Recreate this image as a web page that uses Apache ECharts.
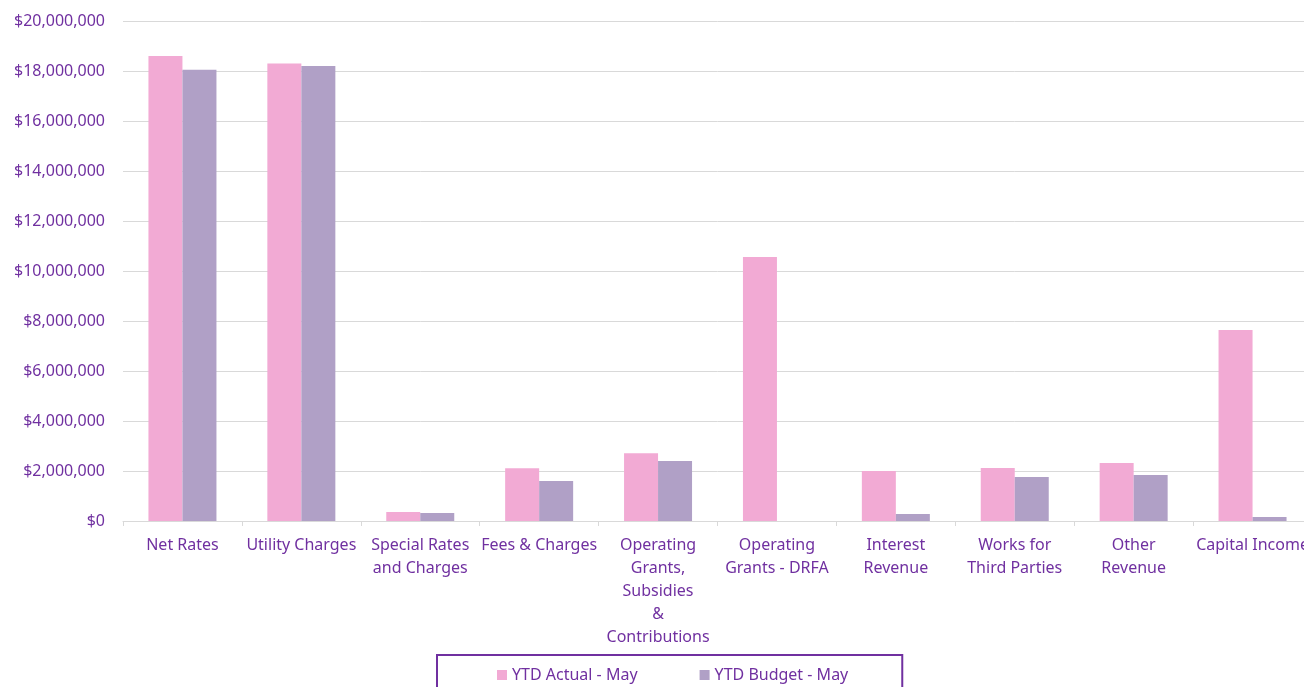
<!DOCTYPE html>
<html>
<head>
<meta charset="utf-8">
<script src="https://cdn.jsdelivr.net/npm/echarts@6/dist/echarts.min.js"></script>
<style>
  html, body { margin: 0; padding: 0; background: #ffffff; overflow: hidden; }
  /* the canvas is a little wider than the window, so the last category runs off the right edge */
  #chart { width: 1312px; height: 687px; }
</style>
</head>
<body>
<div id="chart"></div>
<script>
// Revenue categories (line breaks as shown under the axis)
const categories = [
  'Net Rates',
  'Utility Charges',
  'Special Rates\nand Charges',
  'Fees & Charges',
  'Operating\nGrants,\nSubsidies\n&\nContributions',
  'Operating\nGrants - DRFA',
  'Interest\nRevenue',
  'Works for\nThird Parties',
  'Other\nRevenue',
  'Capital Income'
];

// Year-to-date values in dollars
const ytdActual = [18600000, 18300000, 360000, 2110000, 2710000, 10560000, 2000000, 2120000, 2320000, 7640000];
const ytdBudget = [18050000, 18200000, 320000, 1600000, 2400000, 0, 280000, 1760000, 1840000, 160000];

const seriesNames = ['YTD Actual - May', 'YTD Budget - May'];

const textColor = '#7030A0';
const fontFamily = '"Noto Sans", "Liberation Sans", sans-serif';

function money(v) {
  return '$' + v.toLocaleString('en-US');
}

const chart = echarts.init(document.getElementById('chart'), null, { renderer: 'canvas' });

chart.setOption({
  animation: false,
  backgroundColor: '#ffffff',
  textStyle: { fontFamily: fontFamily },
  grid: { left: 123, right: 0, top: 21, height: 500, containLabel: false },
  legend: {
    data: seriesNames,
    top: 655,
    left: 437,
    padding: [12, 54, 12, 60],
    itemGap: 62,
    itemWidth: 10,
    itemHeight: 10,
    icon: 'rect',
    borderColor: '#7030A0',
    borderWidth: 2,
    textStyle: { color: textColor, fontSize: 16, fontFamily: fontFamily }
  },
  xAxis: {
    type: 'category',
    data: categories,
    boundaryGap: true,
    axisLine: { show: true, lineStyle: { color: '#d9d9d9', width: 1 } },
    axisTick: { show: true, alignWithLabel: false, length: 5, lineStyle: { color: '#d9d9d9' } },
    axisLabel: {
      interval: 0,
      color: textColor,
      fontSize: 16,
      lineHeight: 23,
      margin: 13,
      fontFamily: fontFamily
    }
  },
  yAxis: {
    type: 'value',
    min: 0,
    max: 20000000,
    interval: 2000000,
    axisLine: { show: false },
    axisTick: { show: false },
    splitLine: { lineStyle: { color: '#d9d9d9', width: 1 } },
    axisLabel: {
      color: textColor,
      fontSize: 16,
      margin: 18,
      fontFamily: fontFamily,
      formatter: money
    }
  },
  series: [
    {
      name: seriesNames[0],
      type: 'bar',
      data: ytdActual,
      barWidth: 34,
      barGap: '0%',
      itemStyle: { color: '#F2AAD4' }
    },
    {
      name: seriesNames[1],
      type: 'bar',
      data: ytdBudget,
      barWidth: 34,
      barGap: '0%',
      itemStyle: { color: '#B0A0C6' }
    }
  ]
});
</script>
</body>
</html>
